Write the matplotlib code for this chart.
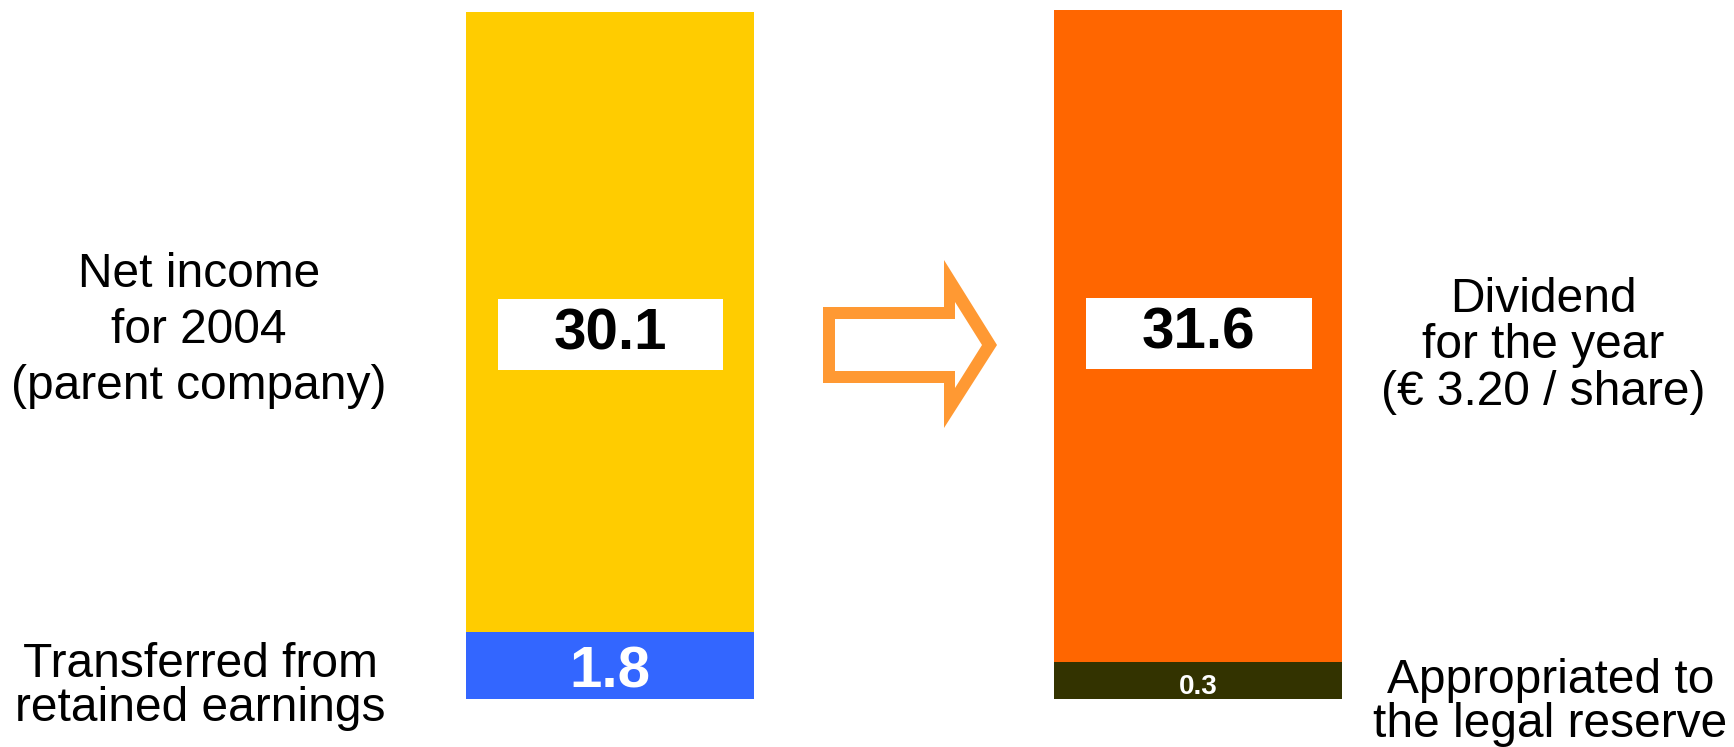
import matplotlib.pyplot as plt
from matplotlib.patches import Rectangle, Polygon

plt.rcParams['font.family'] = ['Liberation Sans', 'DejaVu Sans']

# Values shown on the slide (EUR m)
main_vals = [30.1, 31.6]
base_vals = [1.8, 0.3]
# the slide is not drawn to scale: segment heights as they appear in the picture
main_drawn = [28.8, 30.3]
base_drawn = [3.1, 1.7]

main_colors = ['#FFCC00', '#FF6600']
base_colors = ['#3366FF', '#333300']
base_label_size = [42, 20]

main_texts = ['Net income\nfor 2004\n(parent company)',
              'Dividend\nfor the year\n(€ 3.20 / share)']
base_texts = ['Transferred from\nretained earnings',
              'Appropriated to\nthe legal reserve']

W, H = 1734, 747
fig = plt.figure(figsize=(W / 100, H / 100), dpi=100)
ax = fig.add_axes([0, 0, 1, 1])
ax.axis('off')
ax.set_xlim(-1.037, 1.911)
ax.set_ylim(-2.23, 32.45)

x = [0, 1]
bw = 0.49
ax.bar(x, base_drawn, width=bw, color=base_colors, linewidth=0)
ax.bar(x, main_drawn, bottom=base_drawn, width=bw, color=main_colors, linewidth=0)

# value labels
for i in range(2):
    ym = 0.53 * (base_drawn[i] + main_drawn[i])
    ax.add_patch(Rectangle((x[i] - 0.19, ym - 1.65), 0.383, 3.3,
                           facecolor='white', edgecolor='none', zorder=3))
    ax.text(x[i], ym, f'{main_vals[i]:.1f}', ha='center', va='center',
            fontsize=42, fontweight='bold', color='black', zorder=4)
    ax.text(x[i], base_drawn[i] / 2 - 0.3, f'{base_vals[i]:.1f}', ha='center',
            va='center', fontsize=base_label_size[i], fontweight='bold',
            color='white', zorder=4)

# side captions
ax.text(-0.699, 17.1, main_texts[0], ha='center', va='center',
        fontsize=34.5, linespacing=1.32)
ax.text(1.587, 16.4, main_texts[1], ha='center', va='center',
        fontsize=34.5, linespacing=1.04)
ax.text(-0.697, 0.56, base_texts[0], ha='center', va='center',
        fontsize=34.5, linespacing=0.97)
ax.text(1.599, -0.18, base_texts[1], ha='center', va='center',
        fontsize=34.5, linespacing=0.97)


# hollow arrow between the bars (pixel coords, y from top)
def px(pts):
    return [(u / W, 1 - v / H) for u, v in pts]


outer = [(823, 307), (944, 307), (944, 260), (997, 345),
         (944, 428), (944, 383), (823, 383)]
inner = [(835, 319), (955, 319), (955, 302), (982, 345),
         (955, 388), (955, 371), (835, 371)]
fig.patches.append(Polygon(px(outer), closed=True, transform=fig.transFigure,
                           facecolor='#FF9933', edgecolor='none'))
fig.patches.append(Polygon(px(inner), closed=True, transform=fig.transFigure,
                           facecolor='white', edgecolor='none'))

fig.savefig('out.png', dpi=100)
